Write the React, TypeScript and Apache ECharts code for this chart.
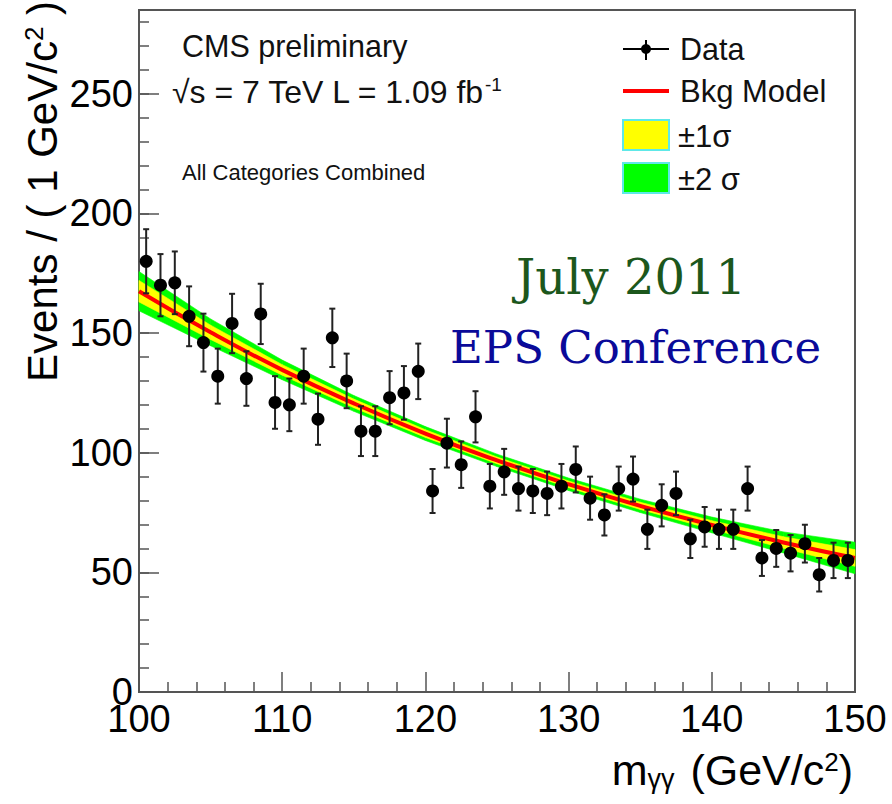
import React, { useEffect, useRef } from "react";
import * as echarts from "echarts";

// Diphoton invariant mass bins (bin centres, GeV/c^2)
const massBins = [
  100.5, 101.5, 102.5, 103.5, 104.5, 105.5, 106.5, 107.5, 108.5, 109.5,
  110.5, 111.5, 112.5, 113.5, 114.5, 115.5, 116.5, 117.5, 118.5, 119.5,
  120.5, 121.5, 122.5, 123.5, 124.5, 125.5, 126.5, 127.5, 128.5, 129.5,
  130.5, 131.5, 132.5, 133.5, 134.5, 135.5, 136.5, 137.5, 138.5, 139.5,
  140.5, 141.5, 142.5, 143.5, 144.5, 145.5, 146.5, 147.5, 148.5, 149.5,
];

// Observed events per 1 GeV/c^2
const events = [
  180, 170, 171, 157, 146, 132, 154, 131, 158, 121,
  120, 132, 114, 148, 130, 109, 109, 123, 125, 134,
  84, 104, 95, 115, 86, 92, 85, 84, 83, 86,
  93, 81, 74, 85, 89, 68, 78, 83, 64, 69,
  68, 68, 85, 56, 60, 58, 62, 49, 55, 55,
];

// Statistical uncertainty on each bin
const eventErrors = [
  13.4, 13.0, 13.1, 12.5, 12.1, 11.5, 12.4, 11.4, 12.6, 11.0,
  11.0, 11.5, 10.7, 12.2, 11.4, 10.4, 10.4, 11.1, 11.2, 11.6,
  9.2, 10.2, 9.7, 10.7, 9.3, 9.6, 9.2, 9.2, 9.1, 9.3,
  9.6, 9.0, 8.6, 9.2, 9.4, 8.2, 8.8, 9.1, 8.0, 8.3,
  8.2, 8.2, 9.2, 7.5, 7.7, 7.6, 7.9, 7.0, 7.4, 7.4,
];

// Background model sampled along the mass range
const modelMass = [100, 105, 110, 115, 120, 125, 130, 135, 140, 145, 150];
const modelEvents = [167.5, 150.3, 134.6, 120.6, 108.0, 96.8, 86.8, 77.8, 69.8, 62.5, 56.0];
// Half-widths of the 1 sigma and 2 sigma uncertainty bands
const band1Sigma = [4.5, 3.0, 2.2, 1.8, 1.6, 1.4, 1.4, 1.5, 1.8, 2.4, 3.5];
const band2Sigma = [8.2, 5.6, 4.1, 3.3, 2.9, 2.6, 2.6, 2.8, 3.3, 4.4, 6.6];

const FONT = "'Liberation Sans', Arial, sans-serif";
const SERIF = "'DejaVu Serif', serif";
const AXIS_COLOR = "#555";

function bandSeries(name: string, widths: number[], color: string, z: number) {
  return {
    name,
    type: "custom",
    z,
    silent: true,
    data: modelMass.map((m, i) => [m, modelEvents[i], widths[i]]),
    encode: { x: 0, y: 1 },
    renderItem: (params: any, api: any) => {
      const i = params.dataIndex;
      if (i >= modelMass.length - 1) return null;
      const x0 = modelMass[i];
      const x1 = modelMass[i + 1];
      const pts = [
        api.coord([x0, modelEvents[i] + widths[i]]),
        api.coord([x1, modelEvents[i + 1] + widths[i + 1]]),
        api.coord([x1, modelEvents[i + 1] - widths[i + 1]]),
        api.coord([x0, modelEvents[i] - widths[i]]),
      ];
      return {
        type: "polygon",
        shape: { points: pts },
        style: { fill: color, stroke: color, lineWidth: 0.6 },
      };
    },
  };
}

export default function App() {
  const ref = useRef<HTMLDivElement>(null);

  useEffect(() => {
    if (!ref.current) return;
    const chart = echarts.init(ref.current, null, { renderer: "svg" });

    const legendX = 623;
    const legendTextX = 680;

    chart.setOption({
      animation: false,
      backgroundColor: "#ffffff",
      grid: {
        left: 139,
        right: 37,
        top: 10,
        bottom: 112,
        show: true,
        borderColor: AXIS_COLOR,
        borderWidth: 2,
        backgroundColor: "transparent",
      },
      xAxis: {
        type: "value",
        min: 100,
        max: 150,
        interval: 10,
        axisLine: { show: true, lineStyle: { color: AXIS_COLOR, width: 2 } },
        axisTick: { show: true, inside: true, length: 20, lineStyle: { color: AXIS_COLOR, width: 1.5 } },
        minorTick: { show: true, splitNumber: 5, length: 10, lineStyle: { color: AXIS_COLOR, width: 1.5 } },
        splitLine: { show: false },
        axisLabel: { fontSize: 38, color: "#000", fontFamily: FONT, margin: 8 },
      },
      yAxis: [
        {
          type: "value",
          min: 0,
          max: 285,
          interval: 50,
          position: "left",
          axisLine: { show: true, lineStyle: { color: AXIS_COLOR, width: 2 } },
          axisTick: { show: true, inside: true, length: 20, lineStyle: { color: AXIS_COLOR, width: 1.5 } },
          splitLine: { show: false },
          axisLabel: { fontSize: 38, color: "#000", fontFamily: FONT, margin: 6, showMaxLabel: false },
        },
        {
          type: "value",
          min: 0,
          max: 285,
          interval: 10,
          position: "left",
          axisLine: { show: false },
          axisTick: { show: true, inside: true, length: 10, lineStyle: { color: AXIS_COLOR, width: 1.5 } },
          splitLine: { show: false },
          axisLabel: { show: false },
        },
      ],
      series: [
        bandSeries("±2 σ", band2Sigma, "#00ff00", 2),
        bandSeries("±1σ", band1Sigma, "#ffff00", 3),
        {
          name: "Bkg Model",
          type: "line",
          z: 4,
          silent: true,
          symbol: "none",
          smooth: true,
          data: modelMass.map((m, i) => [m, modelEvents[i]]),
          lineStyle: { color: "#ff0000", width: 4 },
        },
        {
          name: "Data",
          type: "custom",
          z: 5,
          silent: true,
          data: massBins.map((m, i) => [m, events[i], eventErrors[i]]),
          encode: { x: 0, y: 1 },
          renderItem: (params: any, api: any) => {
            const x = api.value(0);
            const y = api.value(1);
            const e = api.value(2);
            const c = api.coord([x, y]);
            const top = api.coord([x, y + e]);
            const bot = api.coord([x, y - e]);
            const cap = 3;
            const lineStyle = { stroke: "#222", lineWidth: 2 };
            return {
              type: "group",
              children: [
                { type: "line", shape: { x1: c[0], y1: top[1], x2: c[0], y2: bot[1] }, style: lineStyle },
                { type: "line", shape: { x1: c[0] - cap, y1: top[1], x2: c[0] + cap, y2: top[1] }, style: lineStyle },
                { type: "line", shape: { x1: c[0] - cap, y1: bot[1], x2: c[0] + cap, y2: bot[1] }, style: lineStyle },
                { type: "circle", shape: { cx: c[0], cy: c[1], r: 6.5 }, style: { fill: "#000" } },
              ],
            };
          },
        },
      ],
      graphic: [
        // Axis titles
        {
          type: "text",
          x: 42,
          y: 1,
          rotation: Math.PI / 2,
          style: {
            text: "Events / ( 1 GeV/c{sup|2} )",
            fontSize: 42,
            fontFamily: FONT,
            fill: "#000",
            align: "right",
            verticalAlign: "middle",
            rich: {
              sup: { fontSize: 26, fontFamily: FONT, fill: "#000", padding: [0, 0, 16, 0] },
            },
          },
        },
        {
          type: "text",
          x: 853,
          y: 770,
          style: {
            text: "m{sub|γγ} (GeV/c{sup|2})",
            fontSize: 43,
            fontFamily: FONT,
            fill: "#000",
            align: "right",
            verticalAlign: "middle",
            rich: {
              sub: { fontSize: 27, fontFamily: FONT, fill: "#000", padding: [18, 4, 0, 0] },
              sup: { fontSize: 26, fontFamily: FONT, fill: "#000", padding: [0, 0, 17, 0] },
            },
          },
        },
        // Header texts
        {
          type: "text",
          x: 182,
          y: 46,
          style: { text: "CMS preliminary", fontSize: 30.5, fontFamily: FONT, fill: "#111", verticalAlign: "middle" },
        },
        {
          type: "text",
          x: 172,
          y: 92,
          style: {
            text: "√s = 7 TeV L = 1.09 fb{sup|-1}",
            fontSize: 32,
            fontFamily: FONT,
            fill: "#111",
            verticalAlign: "middle",
            rich: {
              sup: { fontSize: 19, fontFamily: FONT, fill: "#111", padding: [0, 0, 15, 0] },
            },
          },
        },
        {
          type: "text",
          x: 182,
          y: 172,
          style: { text: "All Categories Combined", fontSize: 22, fontFamily: FONT, fill: "#111", verticalAlign: "middle" },
        },
        {
          type: "text",
          x: 516,
          y: 277,
          style: { text: "July 2011", fontSize: 48, fontFamily: SERIF, fill: "#1c571c", verticalAlign: "middle" },
        },
        {
          type: "text",
          x: 450,
          y: 347,
          style: { text: "EPS Conference", fontSize: 45, fontFamily: SERIF, fill: "#0a0a99", verticalAlign: "middle" },
        },
        // Legend
        {
          type: "line",
          shape: { x1: legendX, y1: 49, x2: legendX + 46, y2: 49 },
          style: { stroke: "#000", lineWidth: 2 },
        },
        {
          type: "line",
          shape: { x1: legendX + 23, y1: 40, x2: legendX + 23, y2: 60 },
          style: { stroke: "#000", lineWidth: 2 },
        },
        { type: "circle", shape: { cx: legendX + 23, cy: 49, r: 5 }, style: { fill: "#000" } },
        { type: "text", x: legendTextX, y: 49, style: { text: "Data", fontSize: 30.5, fontFamily: FONT, fill: "#111", verticalAlign: "middle" } },
        {
          type: "line",
          shape: { x1: legendX, y1: 91, x2: legendX + 46, y2: 91 },
          style: { stroke: "#ff0000", lineWidth: 4 },
        },
        { type: "text", x: legendTextX, y: 91, style: { text: "Bkg Model", fontSize: 31, fontFamily: FONT, fill: "#111", verticalAlign: "middle" } },
        {
          type: "rect",
          shape: { x: legendX, y: 120, width: 46, height: 30 },
          style: { fill: "#ffff00", stroke: "#5ee8e8", lineWidth: 2 },
        },
        { type: "text", x: legendTextX - 2, y: 136, style: { text: "±1σ", fontSize: 31, fontFamily: FONT, fill: "#111", verticalAlign: "middle" } },
        {
          type: "rect",
          shape: { x: legendX, y: 163, width: 46, height: 30 },
          style: { fill: "#00ff00", stroke: "#5ee8e8", lineWidth: 2 },
        },
        { type: "text", x: legendTextX - 2, y: 179, style: { text: "±2 σ", fontSize: 31, fontFamily: FONT, fill: "#111", verticalAlign: "middle" } },
      ],
    });

    return () => chart.dispose();
  }, []);

  return (
    <div
      ref={ref}
      style={{ position: "absolute", left: 0, top: 0, width: 892, height: 804, background: "#fff" }}
    />
  );
}
